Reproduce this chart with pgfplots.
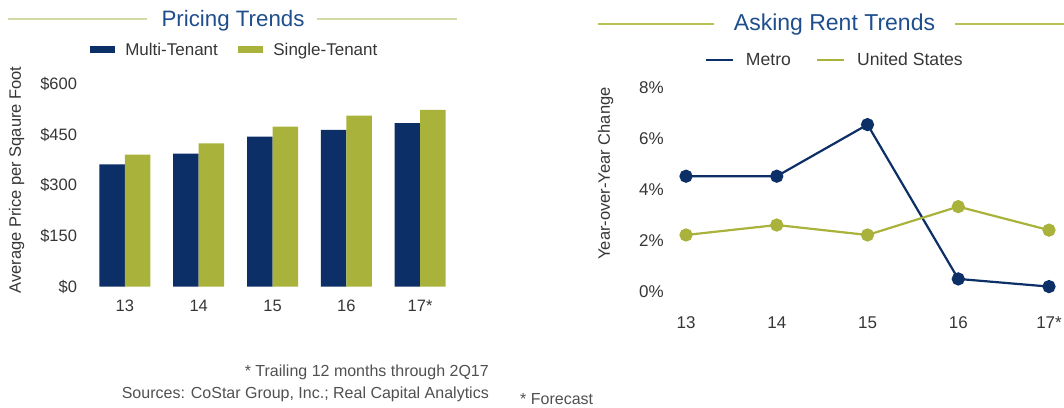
\documentclass[border=0pt]{standalone}
\usepackage{pgfplots}
\pgfplotsset{compat=1.18}
\usepackage{fontspec}
\setmainfont{Liberation Sans}
\definecolor{navy}{HTML}{0B2F66}
\definecolor{olive}{HTML}{A9B23A}
\definecolor{titleblue}{HTML}{1F4E8C}
\definecolor{rulegreen}{HTML}{D2DAA6}
\definecolor{rulegreen2}{HTML}{B9C154}
\definecolor{txt}{HTML}{363636}
\definecolor{foot}{HTML}{505050}
\newcommand{\fs}{\fontsize{16.5}{19}\selectfont}
\newcommand{\fl}{\fontsize{17}{20}\selectfont}
\begin{document}
\begin{tikzpicture}
\path[use as bounding box] (0pt,0pt) rectangle (1064pt,407pt);
% titles
\draw[rulegreen, line width=1.2pt] (8pt,388pt) -- (147pt,388pt);
\draw[rulegreen, line width=1.2pt] (317pt,388pt) -- (457pt,388pt);
\node[anchor=base, text=titleblue, font=\fontsize{22.3}{26}\selectfont, inner sep=0pt] at (233pt,380.3pt) {Pricing Trends};
\draw[rulegreen2, line width=1.2pt] (598pt,383pt) -- (714pt,383pt);
\draw[rulegreen2, line width=1.2pt] (955pt,383pt) -- (1064pt,383pt);
\node[anchor=base, text=titleblue, font=\fontsize{23}{27}\selectfont, inner sep=0pt] at (834.5pt,376.3pt) {Asking Rent Trends};
% y labels
\node[rotate=90, text=txt, font=\fs, inner sep=0pt] at (16.5pt,227pt) {Average Price per Sqaure Foot};
\node[rotate=90, text=txt, font=\fs, inner sep=0pt] at (605.5pt,233.5pt) {Year-over-Year Change};
% footnotes
\node[anchor=base east, text=foot, font=\fontsize{16}{19}\selectfont, inner sep=0pt] at (489pt,30.3pt) {* Trailing 12 months through 2Q17};
\node[anchor=base east, text=foot, font=\fontsize{16}{19}\selectfont, inner sep=0pt] at (489pt,9pt) {Sources: CoStar Group, Inc.; Real Capital Analytics};
\node[anchor=base west, text=foot, font=\fontsize{16}{19}\selectfont, inner sep=0pt] at (520pt,2.5pt) {* Forecast};

\begin{axis}[at={(88pt,120.5pt)}, anchor=south west, scale only axis,
  width=369pt, height=202.5pt,
  xmin=-0.5, xmax=4.5, ymin=0, ymax=600,
  ybar=0pt, bar width=25.5pt,
  axis line style={draw=none}, major tick length=0pt,
  xtick={0,1,2,3,4}, xticklabels={13,14,15,16,17*},
  ytick={0,150,300,450,600},
  yticklabel={\$\pgfmathprintnumber[assume math mode=true]{\tick}},
  ticklabel style={text=txt, font=\fs},
  yticklabel style={xshift=-7.5pt},
  xticklabel style={yshift=-10pt},
  legend style={at={(0.3945,1.168)}, anchor=center, draw=none, fill=none,
    legend columns=2, font=\fl, text=txt, nodes={inner sep=0pt},
    /tikz/every odd column/.append style={column sep=10pt},
    /tikz/every even column/.append style={column sep=20pt}},
]
\addplot[fill=navy, draw=none, legend image code/.code={\fill[navy] (0pt,-3.5pt) rectangle (25.5pt,3.5pt);}] coordinates {(0,362) (1,394) (2,444) (3,464) (4,484)};
\addplot[fill=olive, draw=none, legend image code/.code={\fill[olive] (0pt,-3.5pt) rectangle (25.5pt,3.5pt);}] coordinates {(0,391) (1,424) (2,474) (3,506) (4,523)};
\legend{Multi-Tenant, Single-Tenant}
\end{axis}

\begin{axis}[at={(686pt,115.3pt)}, anchor=south west, scale only axis,
  width=363pt, height=204.4pt,
  xmin=0, xmax=4, ymin=0, ymax=8, clip=false,
  axis line style={draw=none}, major tick length=0pt,
  xtick={0,1,2,3,4}, xticklabels={13,14,15,16,17*},
  ytick={0,2,4,6,8},
  yticklabel={\pgfmathprintnumber[assume math mode=true]{\tick}\%},
  ticklabel style={text=txt, font=\fl},
  yticklabel style={xshift=-18.8pt},
  xticklabel style={yshift=-21.5pt},
  legend style={at={(0.407,1.1336)}, anchor=center, draw=none, fill=none,
    legend columns=2, font=\fontsize{17.6}{20}\selectfont, text=txt, nodes={inner sep=0pt},
    /tikz/every odd column/.append style={column sep=12pt},
    /tikz/every even column/.append style={column sep=25pt}},
]
\addplot[navy, line width=2.2pt, mark=*, mark size=5.5pt, mark options={fill=navy, draw=navy},
  legend image code/.code={\draw[navy, line width=2.2pt] (0pt,0pt) -- (27pt,0pt);}]
  coordinates {(0,4.52) (1,4.52) (2,6.54) (3,0.50) (4,0.20)};
\addplot[olive, line width=2.2pt, mark=*, mark size=5.5pt, mark options={fill=olive, draw=olive},
  legend image code/.code={\draw[olive, line width=2.2pt] (0pt,0pt) -- (27pt,0pt);}]
  coordinates {(0,2.22) (1,2.61) (2,2.22) (3,3.33) (4,2.41)};
\legend{Metro, United States}
\end{axis}
\end{tikzpicture}
\end{document}
